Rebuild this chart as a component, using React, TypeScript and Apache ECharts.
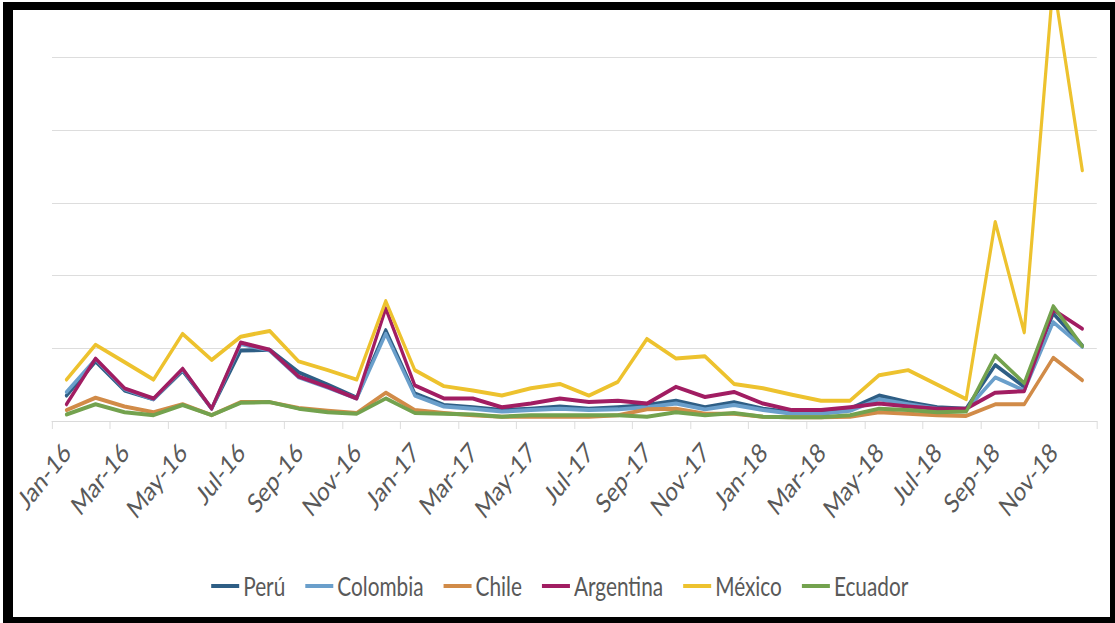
import React, { useEffect, useRef } from "react";
import * as echarts from "echarts";

// Monthly categories, Jan-16 .. Dec-18
const months = [
  "Jan-16", "Feb-16", "Mar-16", "Apr-16", "May-16", "Jun-16",
  "Jul-16", "Aug-16", "Sep-16", "Oct-16", "Nov-16", "Dec-16",
  "Jan-17", "Feb-17", "Mar-17", "Apr-17", "May-17", "Jun-17",
  "Jul-17", "Aug-17", "Sep-17", "Oct-17", "Nov-17", "Dec-17",
  "Jan-18", "Feb-18", "Mar-18", "Apr-18", "May-18", "Jun-18",
  "Jul-18", "Aug-18", "Sep-18", "Oct-18", "Nov-18", "Dec-18",
];

const peru = [
  0.35, 0.82, 0.42, 0.3, 0.69, 0.17, 0.97, 0.98, 0.67, 0.5, 0.32, 1.25,
  0.38, 0.22, 0.19, 0.15, 0.17, 0.2, 0.17, 0.19, 0.22, 0.28, 0.19, 0.26,
  0.17, 0.12, 0.12, 0.17, 0.35, 0.26, 0.19, 0.17, 0.77, 0.47, 1.48, 1.04,
];
const colombia = [
  0.4, 0.85, 0.44, 0.3, 0.71, 0.17, 1.06, 0.97, 0.6, 0.46, 0.31, 1.2,
  0.35, 0.2, 0.17, 0.13, 0.15, 0.17, 0.15, 0.16, 0.19, 0.24, 0.16, 0.22,
  0.15, 0.1, 0.1, 0.14, 0.3, 0.23, 0.17, 0.15, 0.6, 0.42, 1.36, 1.02,
];
const chile = [
  0.15, 0.32, 0.2, 0.12, 0.23, 0.08, 0.26, 0.26, 0.18, 0.14, 0.11, 0.39,
  0.15, 0.11, 0.08, 0.06, 0.06, 0.06, 0.06, 0.08, 0.16, 0.17, 0.1, 0.1,
  0.06, 0.05, 0.05, 0.06, 0.12, 0.1, 0.08, 0.07, 0.23, 0.23, 0.87, 0.56,
];
const argentina = [
  0.23, 0.86, 0.45, 0.31, 0.72, 0.17, 1.08, 0.98, 0.61, 0.47, 0.31, 1.55,
  0.49, 0.31, 0.31, 0.19, 0.24, 0.31, 0.26, 0.28, 0.24, 0.47, 0.33, 0.4,
  0.24, 0.15, 0.15, 0.19, 0.24, 0.2, 0.17, 0.17, 0.39, 0.41, 1.53, 1.27,
];
const mexico = [
  0.57, 1.05, 0.81, 0.57, 1.2, 0.84, 1.16, 1.24, 0.82, 0.7, 0.57, 1.65,
  0.7, 0.48, 0.42, 0.35, 0.45, 0.51, 0.35, 0.54, 1.13, 0.86, 0.89, 0.51,
  0.45, 0.36, 0.28, 0.28, 0.63, 0.7, 0.5, 0.3, 2.74, 1.22, 6.05, 3.45,
];
const ecuador = [
  0.09, 0.23, 0.12, 0.08, 0.22, 0.08, 0.25, 0.26, 0.17, 0.12, 0.1, 0.31,
  0.11, 0.1, 0.09, 0.06, 0.08, 0.08, 0.08, 0.08, 0.06, 0.12, 0.08, 0.11,
  0.06, 0.05, 0.05, 0.08, 0.17, 0.15, 0.12, 0.13, 0.9, 0.52, 1.58, 1.03,
];

const seriesNames = ["Perú", "Colombia", "Chile", "Argentina", "México", "Ecuador"];
const seriesValues = [peru, colombia, chile, argentina, mexico, ecuador];
const seriesColors = ["#2E5E85", "#6A9FCB", "#D18B48", "#A11D62", "#EDC22E", "#73A24E"];

const FONT = "Lato, 'Open Sans', sans-serif";
const TEXT_COLOR = "#595959";
const GRID_COLOR = "#D9D9D9";

// The chart is laid out on a wider canvas and compressed horizontally
const WIDTH = 1115;
const HEIGHT = 623;
const SQUEEZE = 0.8;
const INNER_WIDTH = Math.round(WIDTH / SQUEEZE);

const frameBars: React.CSSProperties[] = [
  { left: 0, top: 0, width: WIDTH, height: 2, background: "#fff" },
  { left: 3, top: 2, width: 10, height: HEIGHT - 2, background: "#000" },
  { left: 3, top: 2, width: WIDTH - 3, height: 8, background: "#000" },
  { left: 1110, top: 2, width: 5, height: HEIGHT - 2, background: "#000" },
  { left: 3, top: 617, width: WIDTH - 3, height: 6, background: "#000" },
];

export default function App() {
  const ref = useRef<HTMLDivElement>(null);

  useEffect(() => {
    if (!ref.current) return;
    const chart = echarts.init(ref.current, null, { renderer: "svg" });
    chart.setOption({
      animation: false,
      backgroundColor: "#ffffff",
      grid: { left: 65, right: 23, top: 57.7, bottom: 202, containLabel: false },
      legend: {
        left: 259,
        top: 568,
        itemWidth: 35,
        itemHeight: 4,
        itemGap: 25,
        icon: "rect",
        data: seriesNames,
        textStyle: { color: TEXT_COLOR, fontFamily: FONT, fontSize: 26 },
      },
      xAxis: {
        type: "category",
        data: months,
        boundaryGap: true,
        axisLine: { lineStyle: { color: GRID_COLOR, width: 1 } },
        axisTick: { show: true, interval: 1, length: 8, lineStyle: { color: GRID_COLOR } },
        axisLabel: {
          interval: 1,
          rotate: 45,
          margin: 26,
          color: TEXT_COLOR,
          fontFamily: FONT,
          fontSize: 27,
        },
        splitLine: { show: false },
      },
      yAxis: {
        type: "value",
        min: 0,
        max: 5,
        interval: 1,
        axisLine: { show: false },
        axisTick: { show: false },
        axisLabel: { show: false },
        splitLine: { lineStyle: { color: GRID_COLOR, width: 1 } },
      },
      series: seriesNames.map((name, i) => ({
        name,
        type: "line",
        data: seriesValues[i],
        symbol: "none",
        clip: false,
        color: seriesColors[i],
        lineStyle: { color: seriesColors[i], width: 4, cap: "round", join: "round" },
      })),
    });
    return () => chart.dispose();
  }, []);

  return (
    <div
      style={{
        position: "fixed",
        left: 0,
        top: 0,
        width: WIDTH,
        height: HEIGHT,
        overflow: "hidden",
        background: "#fff",
      }}
    >
      <div
        ref={ref}
        style={{
          width: INNER_WIDTH,
          height: HEIGHT,
          transform: `scaleX(${SQUEEZE})`,
          transformOrigin: "0 0",
        }}
      />
      {frameBars.map((s, i) => (
        <div key={i} style={{ position: "absolute", ...s }} />
      ))}
    </div>
  );
}
